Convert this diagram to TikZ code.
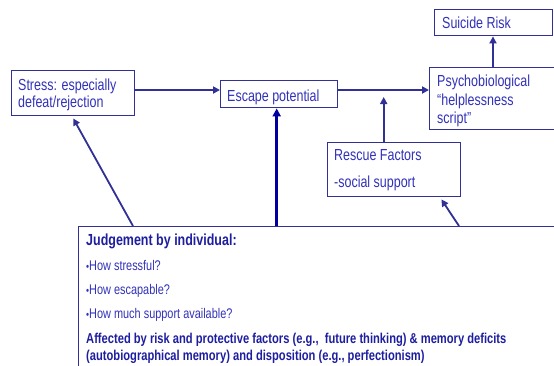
\documentclass[tikz,border=0pt]{standalone}
\usepackage{fontspec}
\setmainfont{Liberation Sans}[FakeStretch=0.78]
\usetikzlibrary{arrows.meta}
\definecolor{ln}{RGB}{48,48,150}
\definecolor{tx}{RGB}{50,50,185}
\definecolor{bt}{RGB}{30,30,160}
\definecolor{thk}{RGB}{0,0,160}
\begin{document}
\begin{tikzpicture}[x=1pt,y=-1pt,
  box/.style={draw=ln, line width=1.4pt, rectangle, inner sep=0pt, anchor=north west},
  lbl/.style={anchor=base west, inner sep=0pt, text=tx, font=\fontsize{16}{16.7}\selectfont},
  sml/.style={anchor=base west, inner sep=0pt, text=tx, font=\fontsize{14}{15}\selectfont},
  bld/.style={anchor=base west, inner sep=0pt, text=bt, font=\fontsize{14.3}{15}\selectfont\bfseries},
  arr/.style={draw=ln, line width=1.8pt, -{Triangle[length=7pt,width=7pt]}},
  thickarr/.style={draw=thk, line width=2.6pt, -{Triangle[length=8pt,width=8pt]}}]
\clip (0,0) rectangle (554,365);
\fill[white] (0,0) rectangle (554,365);
% boxes
\node[box, minimum width=123pt, minimum height=45pt] (stress) at (11,70) {};
\node[box, minimum width=117pt, minimum height=27pt] (escape) at (220,80) {};
\node[box, minimum width=140pt, minimum height=62pt] (psy) at (429,67) {};
\node[box, minimum width=118pt, minimum height=26pt] (sui) at (434,9) {};
\node[box, minimum width=133pt, minimum height=54pt] (rescue) at (327,142) {};
\node[box, minimum width=500pt, minimum height=170pt] (judge) at (78,226) {};
% texts
\node[lbl] (stress1) at (18,90.7) {Stress: especially};
\node[lbl] (stress2) at (18,107.3) {defeat/rejection};
\node[lbl] (escT) at (227,101) {Escape potential};
\node[lbl] (psy1) at (437,86.7) {Psychobiological};
\node[lbl] (psy2) at (437,105) {“helplessness};
\node[lbl] (psy3) at (437,123.3) {script”};
\node[lbl] (suiT) at (442,28.3) {Suicide Risk};
\node[lbl] (res1) at (334,160.7) {Rescue Factors};
\node[lbl] (res2) at (334,187) {-social support};
\node[bld, font=\fontsize{16}{16}\selectfont\bfseries] (j1) at (86,245.7) {Judgement by individual:};
\node[sml] (j2) at (86,270.7) {{\fontsize{11}{11}\selectfont\textbullet}How stressful?};
\node[sml] (j3) at (86,294.3) {{\fontsize{11}{11}\selectfont\textbullet}How escapable?};
\node[sml] (j4) at (86,318.3) {{\fontsize{11}{11}\selectfont\textbullet}How much support available?};
\node[bld] (j5) at (86,343.3) {Affected by risk and protective factors (e.g.,\ \ future thinking) \& memory deficits};
\node[bld] (j6) at (86,360) {(autobiographical memory) and disposition (e.g., perfectionism)};
% connectors
\coordinate (mainline) at (0,90);
\coordinate (restip) at (0,97);
\draw[arr] (stress.east |- mainline) -- (escape.west |- mainline);
\draw[arr] (escape.east |- mainline) -- (psy.west |- mainline);
\draw[arr] ([xshift=64pt]psy.north west) -- ([xshift=64pt]psy.north west |- sui.south);
\draw[arr] ([xshift=-10.5pt]rescue.north) -- ([xshift=-10.5pt]rescue.north |- restip);
\draw[arr] ([xshift=55pt]judge.north west) -- ([yshift=-2pt]stress.south);
\draw[thickarr] ([xshift=-2.5pt]escape.south |- judge.north) -- ([xshift=-2.5pt]escape.south);
\draw[arr] ([xshift=381pt]judge.north west) -- ([xshift=-20pt,yshift=-2pt]rescue.south east);
\end{tikzpicture}
\end{document}
